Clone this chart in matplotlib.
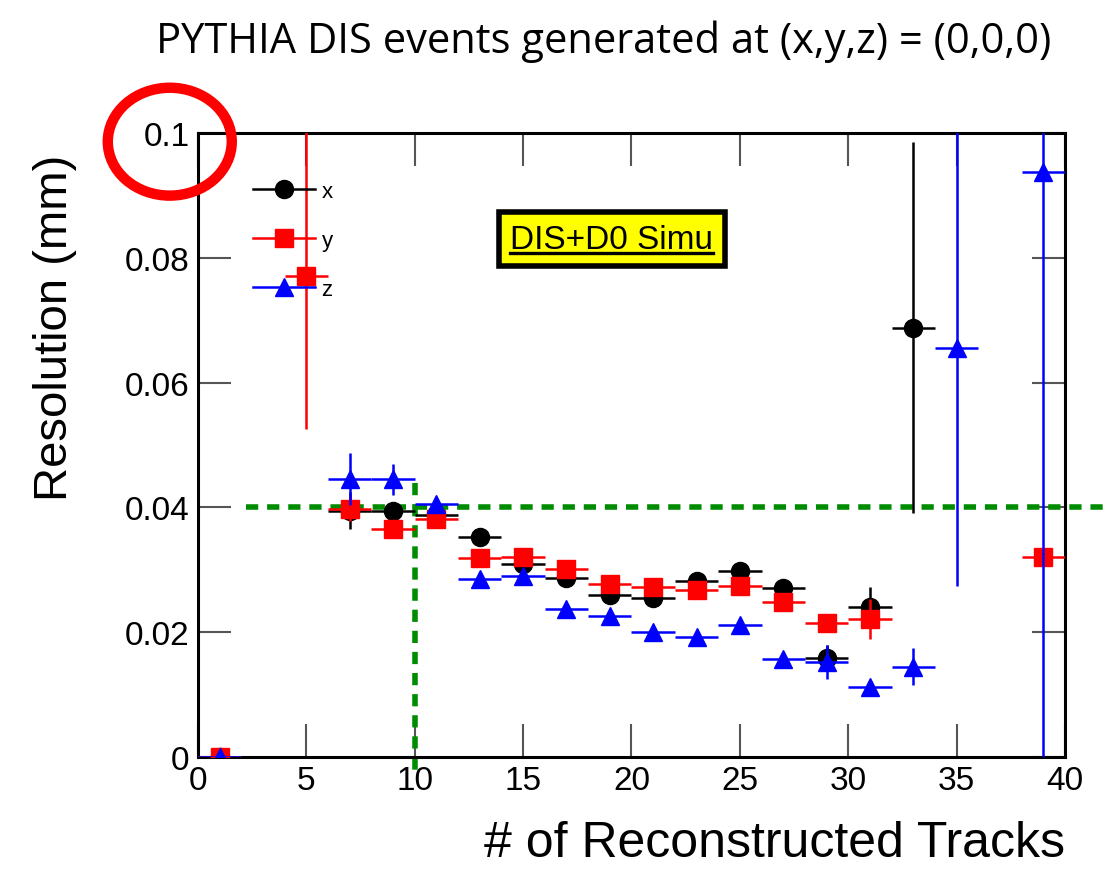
"""Vertex resolution vs number of reconstructed tracks (PYTHIA DIS, vertex at origin)."""
import matplotlib
matplotlib.use("Agg")
import matplotlib.pyplot as plt
from matplotlib.lines import Line2D
from matplotlib.patches import Ellipse

# bin centres (bins of width 2 tracks)
x_bins = [1, 7, 9, 11, 13, 15, 17, 19, 21, 23, 25, 27, 29, 31, 33]
x_res = [0.0, 0.0395, 0.0395, 0.0388, 0.0353, 0.0309, 0.0287, 0.0260,
         0.0255, 0.0282, 0.0298, 0.0271, 0.0159, 0.0240, 0.0688]
x_err = [0.0004, 0.0030, 0.0012, 0.0008, 0.0008, 0.0008, 0.0008, 0.0008,
         0.0008, 0.0008, 0.0008, 0.0010, 0.0020, 0.0033, 0.0297]

y_bins = [1, 5, 7, 9, 11, 13, 15, 17, 19, 21, 23, 25, 27, 29, 31, 39]
y_res = [0.0, 0.0771, 0.0398, 0.0365, 0.0381, 0.0319, 0.0320, 0.0301,
         0.0277, 0.0272, 0.0267, 0.0274, 0.0248, 0.0215, 0.0221, 0.0320]
y_err = [0.0004, 0.0245, 0.0020, 0.0010, 0.0008, 0.0008, 0.0008, 0.0008,
         0.0008, 0.0008, 0.0008, 0.0008, 0.0008, 0.0010, 0.0032, 0.0010]

z_bins = [1, 7, 9, 11, 13, 15, 17, 19, 21, 23, 25, 27, 29, 31, 33, 35, 39]
z_res = [0.0, 0.0446, 0.0445, 0.0405, 0.0285, 0.0290, 0.0237, 0.0226,
         0.0200, 0.0192, 0.0212, 0.0157, 0.0152, 0.0112, 0.0145, 0.0655, 0.0937]
z_err = [0.0004, 0.0042, 0.0025, 0.0010, 0.0008, 0.0008, 0.0008, 0.0008,
         0.0008, 0.0008, 0.0008, 0.0008, 0.0027, 0.0008, 0.0030, 0.0381, 0.1200]

half_width = 1.0
cut_tracks = 10
cut_res = 0.04

plt.rcParams["font.family"] = ["Liberation Sans", "DejaVu Sans"]

fig = plt.figure(figsize=(11.17, 8.70), dpi=100)
ax = fig.add_axes([0.1773, 0.1287, 0.7761, 0.7172])

series = [
    (x_bins, x_res, x_err, "black", "o", 13, "x"),
    (y_bins, y_res, y_err, "red", "s", 12.5, "y"),
    (z_bins, z_res, z_err, "blue", "^", 12.5, "z"),
]
handles = []
for i, (bx, val, err, col, mk, ms, lab) in enumerate(series):
    ax.errorbar(bx, val, xerr=half_width, yerr=err, fmt=mk, color=col,
                ms=ms, elinewidth=1.8, capsize=0, zorder=3 + i)
    handles.append(Line2D([], [], color=col, marker=mk, ms=ms, lw=1.8))

# green dashed cut lines
ax.plot([2.2, 41.8], [cut_res, cut_res], ls=(0, (2.2, 1.6)), color="#008c00",
        lw=4, clip_on=False, zorder=2)
ax.plot([cut_tracks, cut_tracks], [0.0439, -0.002], ls=(0, (2.2, 1.6)),
        color="#008c00", lw=4, clip_on=False, zorder=2)

ax.set_xlim(0, 40)
ax.set_ylim(0, 0.1)
ax.set_xticks(range(0, 41, 5))
ax.set_yticks([0, 0.02, 0.04, 0.06, 0.08, 0.1])
ax.set_yticklabels(["0", "0.02", "0.04", "0.06", "0.08", "0.1"])
ax.tick_params(direction="in", length=24, width=1.5, color="#555555",
               labelsize=24, top=True, right=True, pad=6)
for s in ax.spines.values():
    s.set_linewidth(2.2)

ax.set_ylabel("Resolution (mm)", fontsize=34)
ax.yaxis.set_label_coords(-0.14, 0.69)
ax.set_xlabel("# of Reconstructed Tracks", fontsize=36, loc="right", labelpad=17)

ax.legend(handles, ["x", "y", "z"], loc="upper left",
          bbox_to_anchor=(0.04, 0.955), frameon=False, fontsize=16,
          handlelength=2.8, handletextpad=0.3, labelspacing=1.25)

txt = ax.text(19.1, 0.083, "DIS+D0 Simu", fontsize=24, ha="center", va="center",
              bbox=dict(boxstyle="square,pad=0.35", fc="yellow", ec="black", lw=4),
              zorder=10)
fig.canvas.draw()
bb = txt.get_window_extent().transformed(fig.transFigure.inverted())
fig.add_artist(Line2D([bb.x0, bb.x1], [bb.y0 + 0.002, bb.y0 + 0.002],
                      color="black", lw=2.4, zorder=11))

fig.text(0.54, 0.952, "PYTHIA DIS events generated at (x,y,z) = (0,0,0)",
         fontsize=30, ha="center", va="center", family=["Open Sans", "DejaVu Sans"])

fig.add_artist(Ellipse((0.152, 0.836), 0.111, 0.124, transform=fig.transFigure,
                       fill=False, ec="red", lw=7.5, zorder=20))

fig.savefig("out.png", dpi=100)
